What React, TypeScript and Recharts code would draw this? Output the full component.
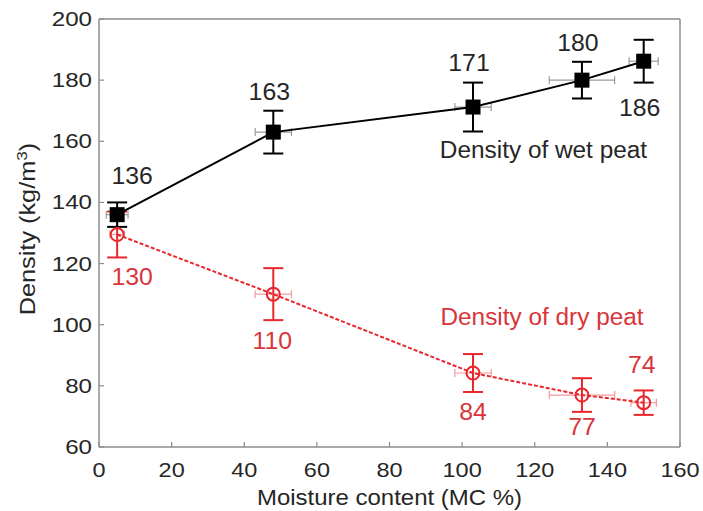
import React from 'react';
import { ComposedChart, Scatter, XAxis, YAxis, ErrorBar, ReferenceDot } from 'recharts';

// ---- data ----
const moisture = [5, 48, 103, 133, 150];
const wetDensity = [136, 163, 171.2, 180, 186.2];
const wetErrY = [4, 7, 8, 6, 7];
const wetErrX = [3, 5, 5, 9, 4];
const wetLabels = ['136', '163', '171', '180', '186'];
const dryDensity = [129.5, 110, 84.2, 77, 74.5];
const dryErrY = [7.5, 8.5, 6.2, 5.5, 4];
const dryErrX = [2, 5, 5, 9, 3.5];
const dryLabels = ['130', '110', '84', '77', '74'];
const xTicks = [0, 20, 40, 60, 80, 100, 120, 140, 160];
const yTicks = [60, 80, 100, 120, 140, 160, 180, 200];
const wetName = 'Density of wet peat';
const dryName = 'Density of dry peat';
const xTitle = 'Moisture content (MC %)';

// label placement (pixel offsets from each point, style only)
const wetLabelOffset = [[15, -31], [-4, -32], [-4, -36], [-4, -29], [-4, 55]];
const dryLabelOffset = [[15, 50], [-1, 55], [0, 47], [0, 40], [-2, -30]];

const wetData = moisture.map((x, i) => ({ x, y: wetDensity[i], ex: wetErrX[i], ey: wetErrY[i] }));
const dryData = moisture.map((x, i) => ({ x, y: dryDensity[i], ex: dryErrX[i], ey: dryErrY[i] }));

const FONT = '"Liberation Sans", Arial, Helvetica, sans-serif';
const RED = '#e8262c';
const RED_TEXT = '#d8353b';
const AXIS = '#8c8c8c';
const TEXT = '#262626';

function SText(props: any) {
  const { x, y, anchor = 'middle', size = 21, fill = TEXT, rotate = 0, sx = 1.1, children } = props;
  return (
    <text
      transform={`translate(${x},${y}) rotate(${rotate}) scale(${sx},1)`}
      textAnchor={anchor}
      fontSize={size}
      fill={fill}
      fontFamily={FONT}
    >
      {children}
    </text>
  );
}

const BottomTick = (p: any) => (
  <SText x={p.x} y={p.y + 30} anchor="middle" size={21} sx={1.12}>{p.payload.value}</SText>
);
const LeftTick = (p: any) => (
  <SText x={p.x} y={p.y + 7} anchor="end" size={21} sx={1.15}>{p.payload.value}</SText>
);

const Square = (p: any) => {
  if (p.cx == null || p.cy == null) return null;
  return <rect x={p.cx - 7.5} y={p.cy - 7.5} width={15} height={15} fill="#000" />;
};
const Ring = (p: any) => {
  if (p.cx == null || p.cy == null) return null;
  return <circle cx={p.cx} cy={p.cy} r={6.5} fill="none" stroke={RED} strokeWidth={2} />;
};

export default function App() {
  return (
    <div style={{ position: 'absolute', left: 0, top: 0, width: 703, height: 511, background: '#fff' }}>
      <ComposedChart width={703} height={511} margin={{ top: 18, right: 22, bottom: 0, left: 0 }}>
        <XAxis
          xAxisId={0}
          type="number"
          dataKey="x"
          domain={[0, 160]}
          ticks={xTicks}
          allowDataOverflow
          height={64}
          axisLine={{ stroke: AXIS, strokeWidth: 1.5 }}
          tickLine={{ stroke: AXIS, strokeWidth: 1.2 }}
          tickSize={-5}
          tickMargin={5}
          tick={BottomTick}
          label={{
            content: (lp: any) => {
              const vb = lp.viewBox;
              return (
                <SText x={vb.x + vb.width / 2} y={vb.y + 58} size={22} sx={1.09}>{xTitle}</SText>
              );
            },
          }}
        />
        <XAxis
          xAxisId="top"
          orientation="top"
          type="number"
          domain={[0, 160]}
          ticks={xTicks}
          allowDataOverflow
          height={1}
          axisLine={{ stroke: AXIS, strokeWidth: 1.5 }}
          tickLine={{ stroke: AXIS, strokeWidth: 1.2 }}
          tickSize={-5}
          tick={false}
        />
        <YAxis
          yAxisId={0}
          type="number"
          domain={[60, 200]}
          ticks={yTicks}
          allowDataOverflow
          width={99}
          axisLine={{ stroke: AXIS, strokeWidth: 1.5 }}
          tickLine={{ stroke: AXIS, strokeWidth: 1.2 }}
          tickSize={-5}
          tickMargin={12}
          tick={LeftTick}
          label={{
            content: (lp: any) => {
              const vb = lp.viewBox;
              return (
                <text
                  transform={`translate(${vb.x + 35},${vb.y + vb.height / 2 - 4}) rotate(-90) scale(1.15,1)`}
                  textAnchor="middle"
                  fontSize={22}
                  fill={TEXT}
                  fontFamily={FONT}
                >
                  Density (kg/m<tspan dy={-8} fontSize={15}>3</tspan><tspan dy={8}>)</tspan>
                </text>
              );
            },
          }}
        />
        <YAxis
          yAxisId="right"
          orientation="right"
          type="number"
          domain={[60, 200]}
          ticks={yTicks}
          allowDataOverflow
          width={1}
          axisLine={{ stroke: AXIS, strokeWidth: 1.5 }}
          tickLine={{ stroke: AXIS, strokeWidth: 1.2 }}
          tickSize={-5}
          tick={false}
        />

        <Scatter
          name={dryName}
          data={dryData}
          dataKey="y"
          fill={RED}
          line={{ stroke: RED, strokeWidth: 2, strokeDasharray: '4 2' }}
          lineType="joint"
          shape={Ring}
          isAnimationActive={false}
        >
          <ErrorBar dataKey="ex" direction="x" width={4} stroke="#f29a9a" strokeWidth={1.2} />
          <ErrorBar dataKey="ey" direction="y" width={10} stroke={RED} strokeWidth={2} />
        </Scatter>

        <Scatter
          name={wetName}
          data={wetData}
          dataKey="y"
          fill="#000"
          line={{ stroke: '#000', strokeWidth: 2 }}
          lineType="joint"
          shape={Square}
          isAnimationActive={false}
        >
          <ErrorBar dataKey="ex" direction="x" width={4} stroke="#9a9a9a" strokeWidth={1.2} />
          <ErrorBar dataKey="ey" direction="y" width={10} stroke="#000" strokeWidth={2} />
        </Scatter>

        {wetData.map((d, i) => (
          <ReferenceDot
            key={'wl' + i}
            x={d.x}
            y={d.y}
            r={0}
            fill="none"
            stroke="none"
            label={(lp: any) => (
              <SText x={lp.viewBox.x + wetLabelOffset[i][0]} y={lp.viewBox.y + wetLabelOffset[i][1]} size={23} sx={1.08}>
                {wetLabels[i]}
              </SText>
            )}
          />
        ))}
        {dryData.map((d, i) => (
          <ReferenceDot
            key={'dl' + i}
            x={d.x}
            y={d.y}
            r={0}
            fill="none"
            stroke="none"
            label={(lp: any) => (
              <SText x={lp.viewBox.x + dryLabelOffset[i][0]} y={lp.viewBox.y + dryLabelOffset[i][1]} size={23} sx={1.08} fill={RED_TEXT}>
                {dryLabels[i]}
              </SText>
            )}
          />
        ))}
        <ReferenceDot
          x={122.4}
          y={154.4}
          r={0}
          fill="none"
          stroke="none"
          label={(lp: any) => (
            <SText x={lp.viewBox.x} y={lp.viewBox.y} size={23} sx={1.06}>{wetName}</SText>
          )}
        />
        <ReferenceDot
          x={122}
          y={100}
          r={0}
          fill="none"
          stroke="none"
          label={(lp: any) => (
            <SText x={lp.viewBox.x} y={lp.viewBox.y} size={23} sx={1.06} fill={RED_TEXT}>{dryName}</SText>
          )}
        />
      </ComposedChart>
    </div>
  );
}
